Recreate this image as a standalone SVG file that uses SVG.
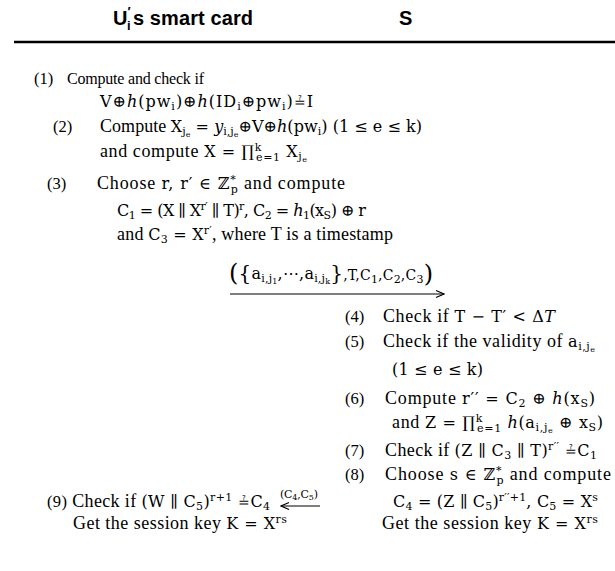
<svg xmlns="http://www.w3.org/2000/svg" width="615" height="571" viewBox="0 0 615 571" xml:space="preserve">
<style>
text{font-family:"Liberation Serif","DejaVu Serif",serif;font-size:18px;fill:#000}
.hd{font-family:"Liberation Sans","DejaVu Sans",sans-serif;font-weight:bold;font-size:20px}
.n{font-size:16.5px}
.c{font-size:16px}
.i{font-style:italic}
.m{font-family:"DejaVu Serif",serif;font-size:16px}
.q{font-family:"DejaVu Serif",serif;font-size:14px}
.ms{font-family:"DejaVu Serif",serif;font-size:11px}
.mss{font-family:"DejaVu Serif",serif;font-size:8px}
</style>
<defs>
<marker id="ah" markerWidth="10" markerHeight="10" refX="9" refY="5" orient="auto" markerUnits="userSpaceOnUse"><path d="M1,1.5 L9,5 L1,8.5" fill="none" stroke="#000" stroke-width="1.2"/></marker>
</defs>
<rect width="615" height="571" fill="#fff"/>
<g id="header">
<text class="hd" x="113" y="25">U</text><text class="hd" style="font-size:13px" x="127.5" y="16">′</text><text class="hd" style="font-size:13px" x="127" y="30">i</text><text class="hd" x="133" y="25" textLength="120">s  smart card</text>
<text class="hd" x="399" y="25">S</text>
<line x1="14" y1="42" x2="615" y2="42" stroke="#000" stroke-width="2.5"/>
</g>
<g id="user-steps">
<text class="n" x="34" y="84">(1)</text><text class="c" x="67" y="84" textLength="137">Compute and check if</text>
<text class="m" x="100" y="107" textLength="213">V⊕<tspan class="i">h</tspan>(pw<tspan class="ms" dy="3">i</tspan><tspan dy="-3">)⊕</tspan><tspan class="i">h</tspan>(ID<tspan class="ms" dy="3">i</tspan><tspan dy="-3">⊕pw</tspan><tspan class="ms" dy="3">i</tspan><tspan dy="-3">)</tspan><tspan class="q">≟</tspan>I</text>
<text class="n" x="53" y="132">(2)</text>
<text x="100" y="132" textLength="322">Compute  <tspan class="m">X</tspan><tspan class="ms" dy="3">j</tspan><tspan class="mss" dy="2">e</tspan><tspan class="m" dy="-5"> = </tspan><tspan class="m i">y</tspan><tspan class="ms" dy="3">i,j</tspan><tspan class="mss" dy="2">e</tspan><tspan class="m" dy="-5">⊕V⊕</tspan><tspan class="m i">h</tspan><tspan class="m">(pw</tspan><tspan class="ms" dy="3">i</tspan><tspan class="m" dy="-3">)  (1 ≤ e ≤ k)</tspan></text>
<text x="100" y="157" textLength="207">and compute  <tspan class="m">X = ∏</tspan><tspan class="ms" dy="-6">k</tspan><tspan class="ms" dx="-6" dy="10">e=1</tspan><tspan class="m" dy="-4"> X</tspan><tspan class="ms" dy="3">j</tspan><tspan class="mss" dy="2">e</tspan></text>
<text class="n" x="47" y="189">(3)</text>
<text x="97" y="189" textLength="248">Choose  <tspan class="m">r, r′ ∈ ℤ</tspan><tspan class="ms" dy="-6">*</tspan><tspan class="ms" dx="-6" dy="10">p</tspan><tspan dy="-4">  and compute</tspan></text>
<text class="m" x="117" y="216" textLength="249">C<tspan class="ms" dy="3">1</tspan><tspan dy="-3"> = (X ∥ X</tspan><tspan class="ms" dy="-6">r′</tspan><tspan dy="6"> ∥ T)</tspan><tspan class="ms" dy="-6">r</tspan><tspan dy="6">,  C</tspan><tspan class="ms" dy="3">2</tspan><tspan dy="-3"> = </tspan><tspan class="i">h</tspan><tspan class="ms" dy="3">1</tspan><tspan dy="-3">(x</tspan><tspan class="ms" dy="3">S</tspan><tspan dy="-3">) ⊕ r</tspan></text>
<text x="117" y="240" textLength="276">and  <tspan class="m">C</tspan><tspan class="ms" dy="3">3</tspan><tspan class="m" dy="-3"> = X</tspan><tspan class="ms" dy="-6">r′</tspan><tspan dy="6">, where T is a timestamp</tspan></text>
<text x="47" y="507" textLength="223"><tspan class="n">(9)</tspan> Check if  <tspan class="m">(W ∥ C</tspan><tspan class="ms" dy="3">5</tspan><tspan class="m" dy="-3">)</tspan><tspan class="ms" dy="-6">r+1</tspan><tspan class="m" dy="6"> </tspan><tspan class="q">≟</tspan><tspan class="m">C</tspan><tspan class="ms" dy="3">4</tspan></text>
<text x="73" y="529" textLength="214">Get the session key  <tspan class="m">K = X</tspan><tspan class="ms" dy="-6">rs</tspan></text>
</g>
<g id="server-steps">
<text class="n" x="345" y="322">(4)</text><text x="383" y="322" textLength="172">Check if  <tspan class="m">T − T′ &lt; Δ</tspan><tspan class="m i">T</tspan></text>
<text class="n" x="345" y="347">(5)</text><text x="383" y="347" textLength="212">Check if the validity of  <tspan class="m">a</tspan><tspan class="ms" dy="3">i,j</tspan><tspan class="mss" dy="2">e</tspan></text>
<text class="m" x="392" y="375" textLength="91">(1 ≤ e ≤ k)</text>
<text class="n" x="345" y="404">(6)</text><text x="385" y="404" textLength="210">Compute  <tspan class="m">r′′ = C</tspan><tspan class="ms" dy="3">2</tspan><tspan class="m" dy="-3"> ⊕ </tspan><tspan class="m i">h</tspan><tspan class="m">(x</tspan><tspan class="ms" dy="3">S</tspan><tspan class="m" dy="-3">)</tspan></text>
<text x="392" y="428" textLength="211">and  <tspan class="m">Z = ∏</tspan><tspan class="ms" dy="-6">k</tspan><tspan class="ms" dx="-6" dy="10">e=1</tspan><tspan class="m i" dy="-4"> h</tspan><tspan class="m">(a</tspan><tspan class="ms" dy="3">i,j</tspan><tspan class="mss" dy="2">e</tspan><tspan class="m" dy="-5"> ⊕ x</tspan><tspan class="ms" dy="3">S</tspan><tspan class="m" dy="-3">)</tspan></text>
<text class="n" x="345" y="456">(7)</text><text x="385" y="456" textLength="212">Check if  <tspan class="m">(Z ∥ C</tspan><tspan class="ms" dy="3">3</tspan><tspan class="m" dy="-3"> ∥ T)</tspan><tspan class="ms" dy="-6">r′′</tspan><tspan class="m" dy="6"> </tspan><tspan class="q">≟</tspan><tspan class="m">C</tspan><tspan class="ms" dy="3">1</tspan></text>
<text class="n" x="345" y="480">(8)</text><text x="385" y="480" textLength="226">Choose  <tspan class="m">s ∈ ℤ</tspan><tspan class="ms" dy="-6">*</tspan><tspan class="ms" dx="-6" dy="10">p</tspan><tspan dy="-4">  and compute</tspan></text>
<text class="m" x="393" y="507" textLength="205">C<tspan class="ms" dy="3">4</tspan><tspan dy="-3"> = (Z ∥ C</tspan><tspan class="ms" dy="3">5</tspan><tspan dy="-3">)</tspan><tspan class="ms" dy="-6">r′′+1</tspan><tspan dy="6">, C</tspan><tspan class="ms" dy="3">5</tspan><tspan dy="-3"> = X</tspan><tspan class="ms" dy="-6">s</tspan></text>
<text x="382" y="529" textLength="216">Get the session key  <tspan class="m">K = X</tspan><tspan class="ms" dy="-6">rs</tspan></text>
</g>
<g id="connectors">
<text class="m" x="229" y="279" textLength="204"><tspan style="font-size:24px" dy="2">(</tspan><tspan style="font-size:20px" dy="-1">{</tspan><tspan style="font-size:16px" dy="-1">a</tspan><tspan class="ms" dy="3">i,j</tspan><tspan class="mss" dy="2">1</tspan><tspan style="font-size:16px" dy="-5">,⋯,a</tspan><tspan class="ms" dy="3">i,j</tspan><tspan class="mss" dy="2">k</tspan><tspan style="font-size:20px" dy="-4">}</tspan><tspan style="font-size:14px" dy="0">,T,C</tspan><tspan class="ms" dy="3">1</tspan><tspan style="font-size:14px" dy="-3">,C</tspan><tspan class="ms" dy="3">2</tspan><tspan style="font-size:14px" dy="-3">,C</tspan><tspan class="ms" dy="3">3</tspan><tspan style="font-size:24px" dy="-1">)</tspan></text>
<line x1="230" y1="294" x2="444" y2="294" stroke="#000" stroke-width="1.2" marker-end="url(#ah)"/>
<text class="ms" x="280" y="498" textLength="38">(C<tspan class="mss" dy="2">4</tspan><tspan dy="-2">,C</tspan><tspan class="mss" dy="2">5</tspan><tspan dy="-2">)</tspan></text>
<line x1="320" y1="506" x2="281" y2="506" stroke="#000" stroke-width="1.2" marker-end="url(#ah)"/>
</g>
</svg>
